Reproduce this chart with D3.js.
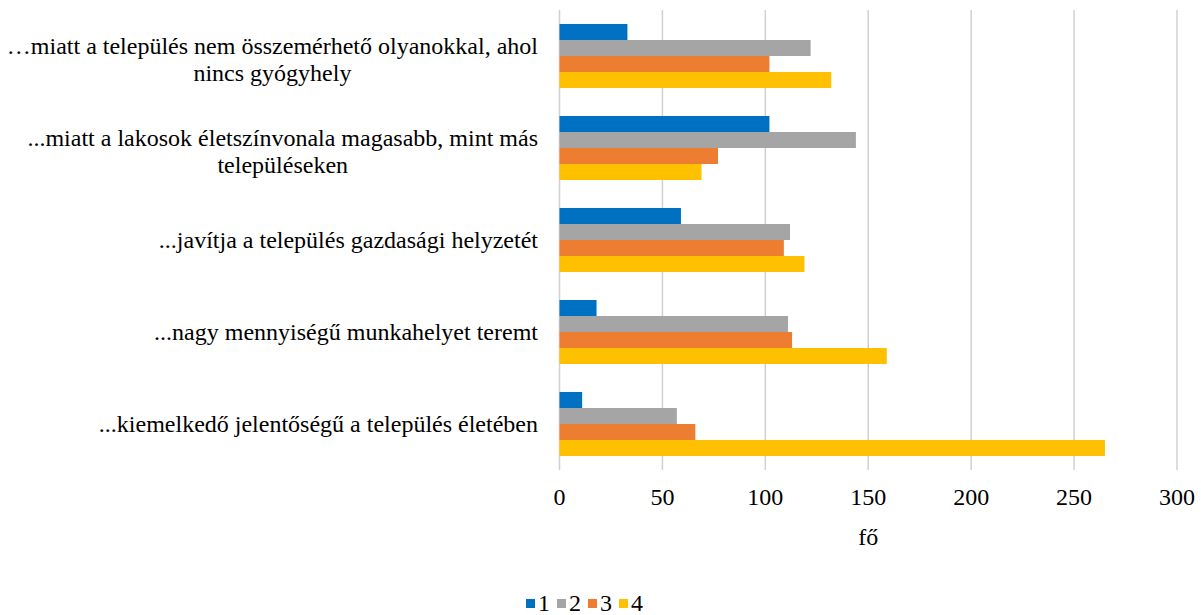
<!DOCTYPE html>
<html>
<head>
<meta charset="utf-8">
<script src="https://cdn.jsdelivr.net/npm/d3@7"></script>
<style>
  body { margin: 0; background: #fff; }
</style>
</head>
<body>
<div id="chart"></div>
<script>
// categories, top to bottom
const categories = [
    ['…miatt a település nem összemérhető olyanokkal, ahol', 'nincs gyógyhely'],
    ['...miatt a lakosok életszínvonala magasabb, mint más', 'településeken'],
    ['...javítja a település gazdasági helyzetét'],
    ['...nagy mennyiségű munkahelyet teremt'],
    ['...kiemelkedő jelentőségű a település életében']
];
const seriesNames = ['1', '2', '3', '4'];
const series1 = [33, 102, 59, 18, 11];
const series2 = [122, 144, 112, 111, 57];
const series3 = [102, 77, 109, 113, 66];
const series4 = [132, 69, 119, 159, 265];
const xTicks = [0, 50, 100, 150, 200, 250, 300];
const colors = ['#0070C0', '#A5A5A5', '#ED7D31', '#FFC000'];

const width = 1201, height = 615;
const plot = { left: 559.5, right: 1177, top: 10, bottom: 470 };
const fontSize = 24;
const fontFamily = '"Liberation Serif", "Times New Roman", serif';

const svg = d3.select('#chart').append('svg')
    .attr('width', width)
    .attr('height', height);

const x = d3.scaleLinear().domain([0, 300]).range([plot.left, plot.right]);
const y = d3.scaleBand().domain(d3.range(categories.length))
    .range([plot.top, plot.bottom]).paddingInner(28 / 92).paddingOuter(14 / 92);
const yInner = d3.scaleBand().domain(d3.range(seriesNames.length))
    .range([0, y.bandwidth()]);

// grid
svg.append('g').selectAll('line')
    .data(xTicks)
    .join('line')
    .attr('x1', d => x(d)).attr('x2', d => x(d))
    .attr('y1', plot.top).attr('y2', plot.bottom)
    .attr('stroke', '#d0d0d0')
    .attr('stroke-width', 1.5);

// bars
const allSeries = [series1, series2, series3, series4];
const groups = svg.append('g').selectAll('g')
    .data(categories.map((c, i) => allSeries.map(s => s[i])))
    .join('g')
    .attr('transform', (d, i) => `translate(0,${y(i)})`);
groups.selectAll('rect')
    .data(d => d)
    .join('rect')
    .attr('x', x(0))
    .attr('y', (d, j) => yInner(j))
    .attr('width', d => x(d) - x(0))
    .attr('height', yInner.bandwidth())
    .attr('fill', (d, j) => colors[j]);

// category labels
const labelRight = 538;
const lineH = 27;
const labels = svg.append('g').selectAll('text')
    .data(categories)
    .join('text')
    .style('font-family', fontFamily)
    .attr('font-size', fontSize)
    .attr('fill', '#000')
    .attr('text-anchor', 'middle');
labels.each(function (lines, i) {
    const t = d3.select(this);
    const cy = y(i) + y.bandwidth() / 2 + (lines.length > 1 ? 3 : 0);
    lines.forEach((ln, k) => {
        t.append('tspan')
            .attr('y', cy + (k - (lines.length - 1) / 2) * lineH)
            .attr('dy', '0.35em')
            .text(ln);
    });
    // centre lines within the block that is right-aligned at labelRight
    const w = d3.max(t.selectAll('tspan').nodes(), n => n.getComputedTextLength());
    t.selectAll('tspan').attr('x', labelRight - w / 2);
});

// x axis labels
svg.append('g').selectAll('text')
    .data(xTicks)
    .join('text')
    .style('font-family', fontFamily)
    .attr('x', d => x(d))
    .attr('y', 497)
    .attr('dy', '0.35em')
    .attr('text-anchor', 'middle')
    .attr('font-size', fontSize)
    .text(d => d);

svg.append('text')
    .style('font-family', fontFamily)
    .attr('x', (plot.left + plot.right) / 2)
    .attr('y', 537)
    .attr('dy', '0.35em')
    .attr('text-anchor', 'middle')
    .attr('font-size', fontSize)
    .text('fő');

// legend
const legend = svg.append('g').selectAll('g')
    .data(seriesNames)
    .join('g')
    .attr('transform', (d, i) => `translate(${526 + i * 31},599)`);
legend.append('rect')
    .attr('width', 9).attr('height', 9)
    .attr('fill', (d, i) => colors[i]);
legend.append('text')
    .style('font-family', fontFamily)
    .attr('x', 12)
    .attr('y', 5)
    .attr('dy', '0.3em')
    .attr('font-size', fontSize)
    .text(d => d);
</script>
</body>
</html>
